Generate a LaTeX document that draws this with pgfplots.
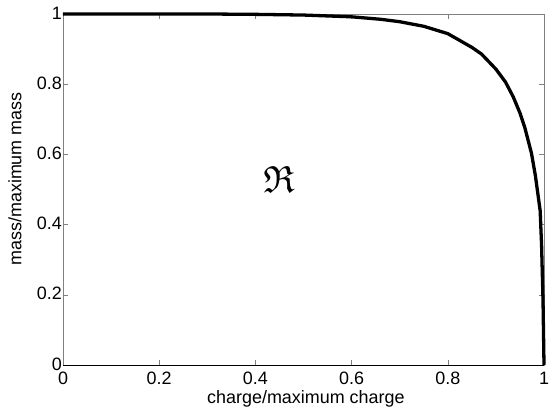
\documentclass[border=0pt]{standalone}
\usepackage{pgfplots}
\pgfplotsset{compat=1.18}
\usepackage{amssymb}
\usepackage{fontspec}
\setmainfont{Liberation Sans}

\definecolor{axgray}{RGB}{128,128,128}

\begin{document}
\begin{tikzpicture}[x=1bp,y=1bp]
\begin{axis}[
  scale only axis,
  width=481bp,
  height=351bp,
  xmin=0, xmax=1,
  ymin=0, ymax=1,
  xtick={0,0.2,0.4,0.6,0.8,1},
  xticklabels={0,0.2,0.4,0.6,0.8,1},
  ytick={0,0.2,0.4,0.6,0.8,1},
  yticklabels={0,0.2,0.4,0.6,0.8,1},
  tick align=inside,
  major tick length=5bp,
  tick style={axgray, line width=0.6pt},
  axis line style={axgray, line width=0.9pt},
  tick label style={font=\fontsize{18}{18}\selectfont},
  label style={font=\fontsize{18}{18}\selectfont},
  xticklabel style={inner sep=1bp, yshift=-6bp},
  yticklabel style={inner sep=1bp, yshift=1bp},
  xlabel={charge/maximum charge},
  ylabel={mass/maximum mass},
  xlabel style={at={(axis description cs:0.505,-0.109)}, anchor=base, inner sep=1bp},
  ylabel style={at={(axis description cs:-0.0998,0.53)}, anchor=center, inner sep=1bp},
  clip=false,
]
\coordinate (ll) at (rel axis cs:0,0);
\coordinate (ur) at (rel axis cs:1,1);
\draw[black, line width=0.9pt] (rel axis cs:0,0) -- (rel axis cs:1,0);
\addplot[black, line width=3.3pt, line join=round] coordinates {
  (0,1) (0.3,1) (0.4,0.999) (0.5,0.997) (0.6,0.992) (0.66,0.985)
  (0.7,0.978) (0.75,0.965) (0.8,0.944) (0.85,0.905) (0.87,0.886)
  (0.9,0.843) (0.92,0.806) (0.936,0.764) (0.95,0.718) (0.96,0.677)
  (0.974,0.603) (0.982,0.54) (0.988,0.48) (0.992,0.44) (0.995,0.34)
  (0.998,0.18) (1,0)
};
\node[font=\fontsize{38}{38}\selectfont] at (axis cs:0.449,0.53) {$\mathfrak{R}$};
\end{axis}
\pgfresetboundingbox
\path[use as bounding box] ([shift={(-63bp,-46bp)}]ll) rectangle ([shift={(10bp,14bp)}]ur);
\end{tikzpicture}
\end{document}
